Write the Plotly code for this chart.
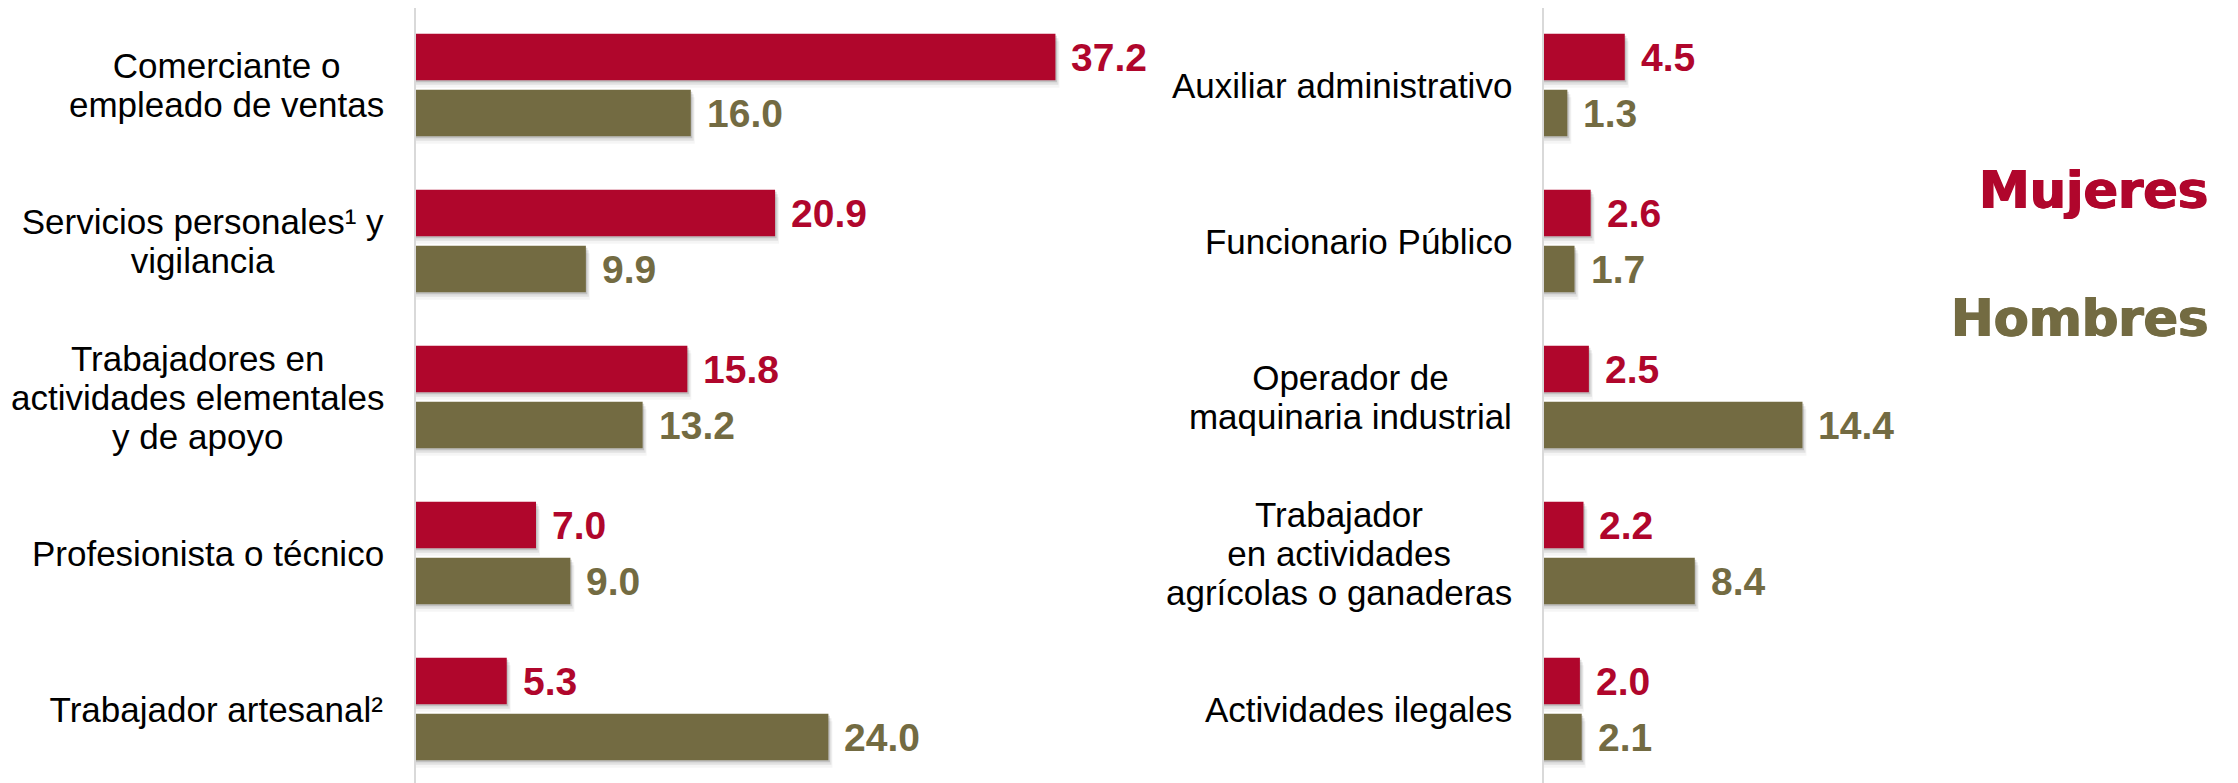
import plotly.graph_objects as go

# ---------------- data ----------------
left_categories = [
    "Comerciante o<br>empleado de ventas",
    "Servicios personales¹ y<br>vigilancia",
    "Trabajadores en<br>actividades elementales<br>y de apoyo",
    "Profesionista o técnico",
    "Trabajador artesanal²",
]
left_mujeres = [37.2, 20.9, 15.8, 7.0, 5.3]
left_hombres = [16.0, 9.9, 13.2, 9.0, 24.0]

right_categories = [
    "Auxiliar administrativo",
    "Funcionario Público",
    "Operador de<br>maquinaria industrial",
    "Trabajador<br>en actividades<br>agrícolas o ganaderas",
    "Actividades ilegales",
]
right_mujeres = [4.5, 2.6, 2.5, 2.2, 2.0]
right_hombres = [1.3, 1.7, 14.4, 8.4, 2.1]

series_names = ["Mujeres", "Hombres"]

# ---------------- style ----------------
W, H = 2238, 783
PAGE = 8               # browser body margin
RED = "#B0062C"
OLIVE = "#736B42"
AXIS_GRAY = "#D9D9D9"
VAL_FONT = "Liberation Sans, Arial, sans-serif"
CAT_FONT = "Liberation Sans, Arial, sans-serif"
LEG_FONT = "DejaVu Sans, Arial Black, sans-serif"
CAT_SIZE = 35
LINE_PITCH = 39

# Arial / Liberation Sans advance widths (1/1000 em) for label centring
AW = {" ": 278, "a": 556, "b": 556, "c": 500, "d": 556, "e": 556, "f": 278,
      "g": 556, "h": 556, "i": 222, "j": 222, "k": 500, "l": 222, "m": 833,
      "n": 556, "o": 556, "p": 556, "q": 556, "r": 333, "s": 500, "t": 278,
      "u": 556, "v": 500, "w": 722, "x": 500, "y": 500, "z": 500,
      "A": 667, "C": 722, "F": 611, "O": 778, "P": 667, "S": 667, "T": 611,
      "é": 556, "í": 278, "ú": 556, "¹": 333, "²": 333}


def text_w(s, size):
    return sum(AW.get(ch, 556) for ch in s) * size / 1000.0


PITCH = 156.0          # px per category
BAR_W = 46.7 / PITCH   # bar thickness in category units
GAP = 4.65 / PITCH     # half gap between the two bars
OFF_M = -(GAP + BAR_W)
OFF_H = GAP

# reference: category band top edge at y=7px; page shows figure from y=8
y_top = -0.5 - (7 - PAGE) / PITCH
y_bottom = y_top + H / PITCH

left_x0 = 415.6 - PAGE
left_scale = 17.2
left_range = 40
right_x0 = 1544.0 - PAGE
right_scale = 17.95
right_range = 20

fig = go.Figure()


def add_panel(cats, muj, hom, xa, ya, scale):
    # soft drop shadows
    for dy, dx, alpha in [(2, 1.5, 0.14), (4.5, 3, 0.08), (7.5, 4, 0.04)]:
        for vals, off in [(muj, OFF_M), (hom, OFF_H)]:
            fig.add_trace(go.Bar(
                y=cats, x=[v + dx / scale for v in vals], orientation="h",
                offset=off + dy / PITCH, width=BAR_W,
                marker=dict(color=f"rgba(0,0,0,{alpha})", line=dict(width=0)),
                xaxis=xa, yaxis=ya, showlegend=False, hoverinfo="skip",
            ))
    for vals, off, col, name in [(muj, OFF_M, RED, series_names[0]),
                                 (hom, OFF_H, OLIVE, series_names[1])]:
        fig.add_trace(go.Bar(
            y=cats, x=vals, orientation="h", offset=off, width=BAR_W,
            marker=dict(color=col, line=dict(width=0)),
            xaxis=xa, yaxis=ya, name=name, showlegend=False,
        ))
        for i, v in enumerate(vals):
            fig.add_annotation(
                x=v, y=i + off + BAR_W / 2, xref=xa, yref=ya,
                text=f"<b>{v:.1f}</b>", showarrow=False,
                xanchor="left", yanchor="middle", xshift=14,
                font=dict(family=VAL_FONT, size=39, color=col),
            )
    axname = "x" if xa == "x" else "x2"
    for i, c in enumerate(cats):
        lines = c.split("<br>")
        n = len(lines)
        block_w = max(text_w(s, CAT_SIZE) for s in lines) + 8
        for k, s in enumerate(lines):
            fig.add_annotation(
                x=0, y=i, xref=f"{axname} domain", yref=ya,
                text=s, showarrow=False, xanchor="right", yanchor="middle",
                xshift=-30 + 4, yshift=-(k - (n - 1) / 2) * LINE_PITCH,
                width=block_w, align="center",
                font=dict(family=CAT_FONT, size=CAT_SIZE, color="#000000"),
            )


add_panel(left_categories, left_mujeres, left_hombres, "x", "y", left_scale)
add_panel(right_categories, right_mujeres, right_hombres, "x2", "y2", right_scale)

ldom = [left_x0 / W, (left_x0 + left_range * left_scale) / W]
rdom = [right_x0 / W, (right_x0 + right_range * right_scale) / W]

common_y = dict(type="category", range=[y_bottom, y_top], showticklabels=False,
                showgrid=False, zeroline=False, showline=True,
                linecolor=AXIS_GRAY, linewidth=2, ticks="")
common_x = dict(visible=False, showgrid=False, zeroline=False)

fig.update_layout(
    width=W, height=H,
    margin=dict(l=0, r=0, t=0, b=0),
    paper_bgcolor="white", plot_bgcolor="white",
    barmode="overlay",
    showlegend=False,
    xaxis=dict(domain=ldom, range=[0, left_range], anchor="y", **common_x),
    yaxis=dict(anchor="x", **common_y),
    xaxis2=dict(domain=rdom, range=[0, right_range], anchor="y2", **common_x),
    yaxis2=dict(anchor="x2", **common_y),
)

# legend-like labels
for name, col, ypx in [(series_names[0], RED, 191), (series_names[1], OLIVE, 318)]:
    fig.add_annotation(
        x=(2210 - PAGE) / W, y=(H - (ypx - PAGE)) / H, xref="paper", yref="paper",
        text=f"<b>{name}</b>", showarrow=False, xanchor="right", yanchor="middle",
        font=dict(family=LEG_FONT, size=51, color=col,
                  shadow=f"0.8px 0 0 {col}, -0.8px 0 0 {col}"),
    )

fig.write_html("out.html")
